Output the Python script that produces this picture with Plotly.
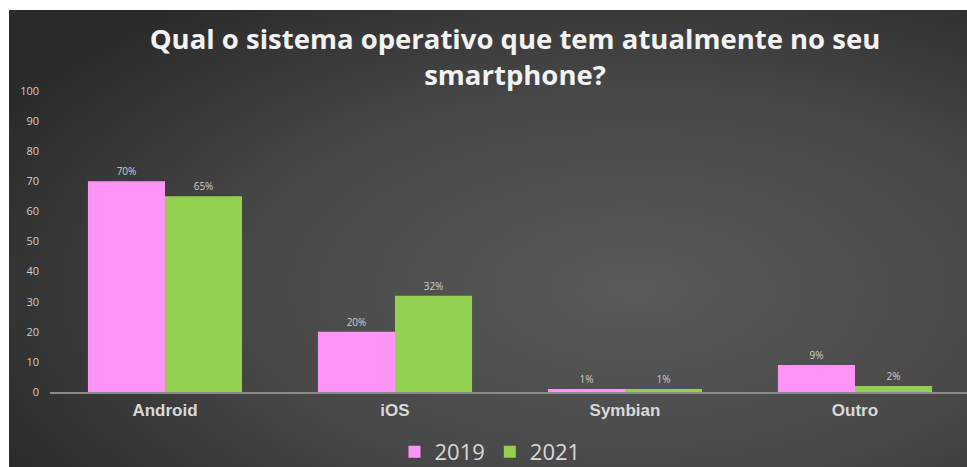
import base64
import plotly.graph_objects as go

categories = ["Android", "iOS", "Symbian", "Outro"]
values_2019 = [70, 20, 1, 9]
values_2021 = [65, 32, 1, 2]
labels_2019 = ["70%", "20%", "1%", "9%"]
labels_2021 = ["65%", "32%", "1%", "2%"]
y_ticks = [0, 10, 20, 30, 40, 50, 60, 70, 80, 90, 100]

W, H = 967, 467
ML, MR, MT, MB = 50, 0, 91, 75
pw, ph = W - ML - MR, H - MT - MB

svg = """<svg xmlns='http://www.w3.org/2000/svg' width='1000' height='500' preserveAspectRatio='none'>
<defs><radialGradient id='g' cx='62%' cy='55%' r='72%'>
<stop offset='0%' stop-color='#5a5a5a'/><stop offset='55%' stop-color='#474747'/><stop offset='100%' stop-color='#2a2a2a'/>
</radialGradient></defs><rect width='1000' height='500' fill='url(#g)'/></svg>"""
src = "data:image/svg+xml;base64," + base64.b64encode(svg.encode()).decode()

fig = go.Figure()
fig.add_trace(go.Bar(name="2019", x=categories, y=values_2019, text=labels_2019,
                     textposition="outside", marker=dict(color="#ff94f7", line=dict(width=0)),
                     textfont=dict(color="#cfcfcf", size=10, family="Open Sans"), cliponaxis=False))
fig.add_trace(go.Bar(name="2021", x=categories, y=values_2021, text=labels_2021,
                     textposition="outside", marker=dict(color="#92d050", line=dict(width=0)),
                     textfont=dict(color="#cfcfcf", size=10, family="Open Sans"), cliponaxis=False))

fig.update_layout(
    width=W, height=H,
    margin=dict(l=ML, r=MR, t=MT, b=MB, autoexpand=False),
    paper_bgcolor="white", plot_bgcolor="rgba(0,0,0,0)",
    bargap=0.33, bargroupgap=0,
    title=dict(text="<b>Qual o sistema operativo que tem atualmente no seu<br>smartphone?</b>",
               x=515 / W, xanchor="center", xref="container",
               y=1 - 49 / H, yanchor="middle", yref="container",
               font=dict(family="Open Sans", size=27.5, color="#f2f2f2")),
    xaxis=dict(range=[-0.5, 3.487], showline=True, linecolor="#8a8a8a", linewidth=1.5,
               showgrid=False, ticks="", tickfont=dict(family="Liberation Sans", size=17, color="#d9d9d9"),
               tickprefix="<b>", ticksuffix="</b>", ticklabelstandoff=2, automargin=False),
    yaxis=dict(range=[0, 100], tickvals=y_ticks, showgrid=False, zeroline=False, showline=False,
               tickfont=dict(family="Open Sans", size=11, color="#cfcfcf"), ticks="",
               ticklabelstandoff=10, automargin=False),
    legend=dict(orientation="h", x=490 / W, xanchor="center", xref="container",
                y=1 - 452 / H, yanchor="middle", yref="container",
                font=dict(family="Open Sans", size=22, color="#d9d9d9"), bgcolor="rgba(0,0,0,0)",
                itemwidth=30, traceorder="normal"),
    images=[dict(source=src, xref="paper", yref="paper", x=(9 - ML) / pw, y=(H - MB - 10) / ph,
                 sizex=(W + 40) / pw, sizey=(H + 40) / ph, xanchor="left", yanchor="top",
                 sizing="stretch", layer="below")],
    showlegend=True,
)

fig.write_html("out.html")
